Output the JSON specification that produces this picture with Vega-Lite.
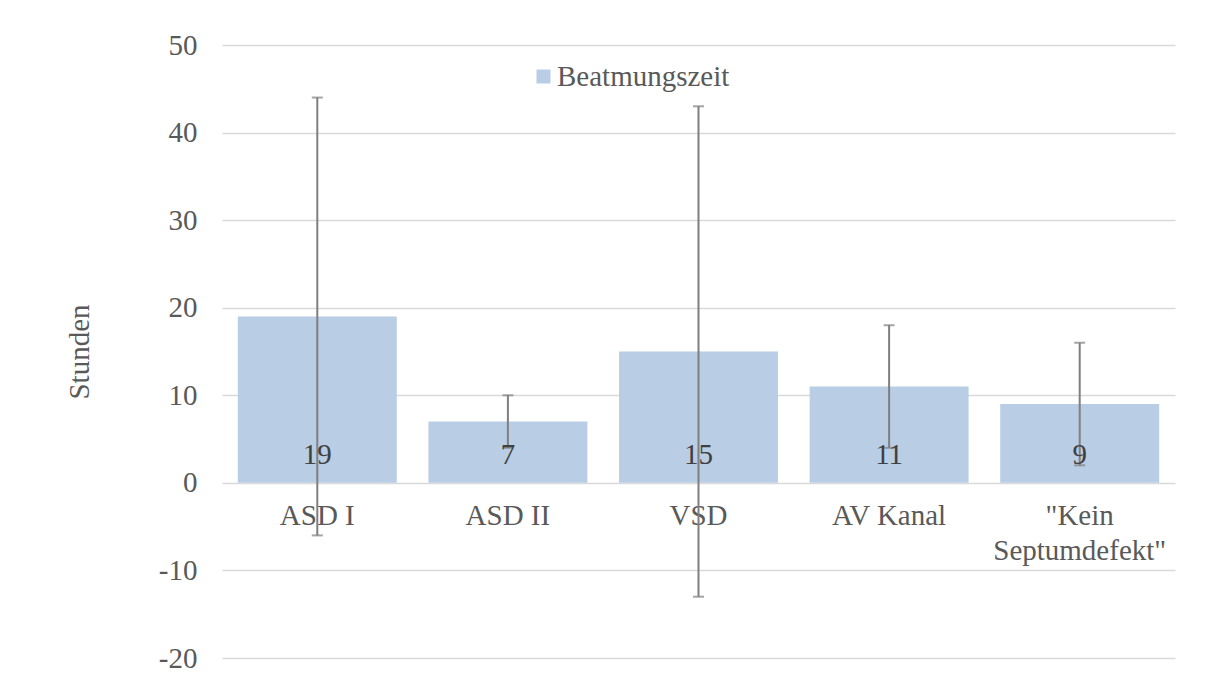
{
  "$schema": "https://vega.github.io/schema/vega-lite/v6.json",
  "autosize": "none",
  "width": 953,
  "height": 613,
  "padding": {"left": 222, "top": 45, "right": 40, "bottom": 24},
  "background": "white",
  "config": {
    "view": {"stroke": null},
    "font": "Liberation Serif",
    "text": {"font": "Liberation Serif"}
  },
  "data": {
    "values": [
      {"cat": "ASD I", "value": 19, "low": -6, "high": 44, "series": "Beatmungszeit"},
      {"cat": "ASD II", "value": 7, "low": 4, "high": 10, "series": "Beatmungszeit"},
      {"cat": "VSD", "value": 15, "low": -13, "high": 43, "series": "Beatmungszeit"},
      {"cat": "AV Kanal", "value": 11, "low": 4, "high": 18, "series": "Beatmungszeit"},
      {"cat": "\"Kein Septumdefekt\"", "value": 9, "low": 2, "high": 16, "series": "Beatmungszeit"}
    ]
  },
  "encoding": {
    "x": {
      "field": "cat",
      "type": "nominal",
      "sort": null,
      "scale": {"paddingInner": 0.166, "paddingOuter": 0.083},
      "axis": {
        "title": null,
        "orient": "bottom",
        "offset": -175,
        "domain": false,
        "ticks": false,
        "labelAngle": 0,
        "labelFont": "Liberation Serif",
        "labelFontSize": 29,
        "labelColor": "#595959",
        "labelPadding": 18,
        "labelLineHeight": 35,
        "labelBaseline": "top",
        "labelExpr": "datum.label == '\"Kein Septumdefekt\"' ? ['\"Kein', 'Septumdefekt\"'] : datum.label"
      }
    }
  },
  "layer": [
    {
      "mark": {"type": "bar"},
      "encoding": {
        "y": {
          "field": "value",
          "type": "quantitative",
          "scale": {"domain": [-20, 50], "nice": false, "zero": false},
          "axis": {
            "title": "Stunden",
            "titleFont": "Liberation Serif",
            "titleFontSize": 29,
            "titleFontWeight": "normal",
            "titleColor": "#595959",
            "titlePadding": 64,
            "values": [-20, -10, 0, 10, 20, 30, 40, 50],
            "labelExpr": "replace(datum.label, '\u2212', '-')",
            "domain": false,
            "ticks": false,
            "grid": true,
            "gridColor": "#d9d9d9",
            "gridWidth": 1.5,
            "labelFont": "Liberation Serif",
            "labelFontSize": 29,
            "labelColor": "#595959",
            "labelPadding": 25
          }
        },
        "y2": {"datum": 0},
        "color": {
          "field": "series",
          "type": "nominal",
          "scale": {"range": ["#b9cde5"]},
          "legend": {
            "title": null,
            "orient": "none",
            "legendX": 307,
            "legendY": 17,
            "padding": 0,
            "symbolType": "square",
            "symbolSize": 196,
            "symbolStrokeWidth": 0,
            "labelFont": "Liberation Serif",
            "labelFontSize": 29,
            "labelColor": "#595959",
            "labelOffset": -1,
            "labelLimit": 0
          }
        }
      }
    },
    {
      "mark": {"type": "rule", "color": "#7f7f7f", "strokeWidth": 2},
      "encoding": {
        "y": {"field": "low", "type": "quantitative"},
        "y2": {"field": "high"}
      }
    },
    {
      "mark": {"type": "tick", "color": "#7f7f7f", "thickness": 2, "size": 11, "orient": "horizontal"},
      "encoding": {
        "y": {"field": "low", "type": "quantitative"}
      }
    },
    {
      "mark": {"type": "tick", "color": "#7f7f7f", "thickness": 2, "size": 11, "orient": "horizontal"},
      "encoding": {
        "y": {"field": "high", "type": "quantitative"}
      }
    },
    {
      "mark": {"type": "text", "fontSize": 29, "color": "#404040", "baseline": "alphabetic", "dy": -19, "font": "Liberation Serif"},
      "encoding": {
        "y": {"datum": 0},
        "text": {"field": "value", "type": "quantitative"}
      }
    }
  ]
}
